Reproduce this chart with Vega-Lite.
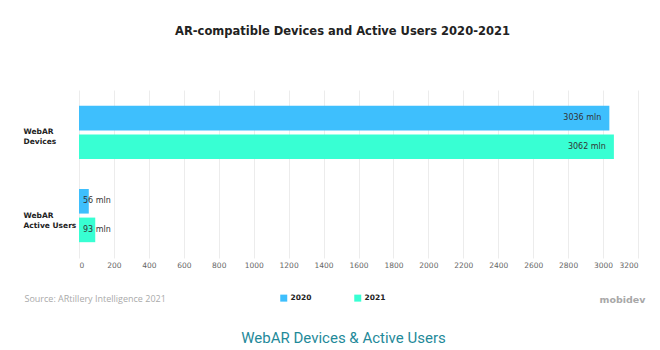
{
  "$schema": "https://vega.github.io/schema/vega-lite/v6.json",
  "autosize": {"type": "none"},
  "width": 559,
  "height": 168,
  "padding": {"left": 79, "top": 90, "right": 22, "bottom": 92},
  "background": "white",
  "title": {
    "text": "AR-compatible Devices and Active Users 2020-2021",
    "font": "DejaVu Sans",
    "fontSize": 11.5,
    "fontWeight": "bold",
    "color": "#222222",
    "anchor": "middle",
    "frame": "group",
    "dx": -16,
    "offset": 53
  },
  "data": {
    "values": [
      {"metric": "WebAR Devices", "year": "2020", "value": 3036, "label": "3036 mln"},
      {"metric": "WebAR Devices", "year": "2021", "value": 3062, "label": "3062 mln"},
      {"metric": "WebAR Active Users", "year": "2020", "value": 56, "label": "56 mln"},
      {"metric": "WebAR Active Users", "year": "2021", "value": 93, "label": "93 mln"}
    ]
  },
  "encoding": {
    "yOffset": {
      "field": "year",
      "type": "nominal",
      "scale": {"paddingInner": 0.14, "paddingOuter": 0}
    }
  },
  "layer": [
    {
      "mark": {"type": "bar", "cornerRadius": 0},
      "encoding": {
        "x": {
          "field": "value",
          "type": "quantitative",
          "scale": {"domain": [0, 3200], "nice": false},
          "axis": {
            "values": [0, 200, 400, 600, 800, 1000, 1200, 1400, 1600, 1800, 2000, 2200, 2400, 2600, 2800, 3000, 3200],
            "format": "d",
            "labelOverlap": false,
            "grid": true,
            "gridColor": "#ececec",
            "gridWidth": 1,
            "domain": false,
            "ticks": false,
            "tickSize": 0,
            "labelPadding": 3,
            "labelFont": "DejaVu Sans",
            "labelFontSize": 7.5,
            "labelColor": "#666666",
            "labelBaseline": "top",
            "title": "WebAR Devices & Active Users",
            "titleFont": "Roboto",
            "titleFontSize": 15,
            "titleFontWeight": "normal",
            "titleColor": "#1f8a9a",
            "titleAlign": "center",
            "titleBaseline": "middle",
            "titleAnchor": null,
            "titleX": 264,
            "titleY": 79
          }
        },
        "y": {
          "field": "metric",
          "type": "nominal",
          "sort": ["WebAR Devices", "WebAR Active Users"],
          "scale": {"paddingInner": 0.36, "paddingOuter": 0.19},
          "axis": {
            "domain": false,
            "ticks": false,
            "tickSize": 0,
            "grid": false,
            "labelAlign": "left",
            "labelBaseline": "middle",
            "labelPadding": 56,
            "labelFont": "DejaVu Sans",
            "labelFontWeight": "bold",
            "labelFontSize": 7.5,
            "labelColor": "#222222",
            "labelLineHeight": 10,
            "labelExpr": "[slice(datum.label, 0, 5), slice(datum.label, 6)]",
            "title": "Source: ARtillery Intelligence 2021",
            "titleAngle": 0,
            "titleFont": "Open Sans",
            "titleFontSize": 9,
            "titleFontWeight": "normal",
            "titleColor": "#aaaaaa",
            "titleAlign": "left",
            "titleBaseline": "middle",
            "titleAnchor": null,
            "titleX": -55,
            "titleY": 208
          }
        },
        "color": {
          "field": "year",
          "type": "nominal",
          "scale": {"domain": ["2020", "2021"], "range": ["#3ebffd", "#38ffd3"]},
          "legend": {
            "orient": "none",
            "direction": "horizontal",
            "legendX": 201,
            "legendY": 204,
            "title": null,
            "symbolType": "square",
            "symbolSize": 49,
            "symbolStrokeWidth": 0,
            "labelFont": "DejaVu Sans",
            "labelFontWeight": "bold",
            "labelFontSize": 7.5,
            "labelColor": "#222222",
            "labelOffset": 3,
            "columnPadding": 42
          }
        }
      }
    },
    {
      "transform": [{"filter": "datum.value > 1000"}],
      "mark": {"type": "text", "align": "right", "baseline": "middle", "dx": -8, "font": "DejaVu Sans", "fontSize": 8, "color": "#333333"},
      "encoding": {
        "x": {
          "field": "value",
          "type": "quantitative",
          "axis": {
            "values": [0, 200, 400, 600, 800, 1000, 1200, 1400, 1600, 1800, 2000, 2200, 2400, 2600, 2800, 3000, 3200],
            "format": "d",
            "labelOverlap": false,
            "grid": true,
            "gridColor": "#ececec",
            "gridWidth": 1,
            "domain": false,
            "ticks": false,
            "tickSize": 0,
            "labelPadding": 3,
            "labelFont": "DejaVu Sans",
            "labelFontSize": 7.5,
            "labelColor": "#666666",
            "labelBaseline": "top",
            "title": "WebAR Devices & Active Users",
            "titleFont": "Roboto",
            "titleFontSize": 15,
            "titleFontWeight": "normal",
            "titleColor": "#1f8a9a",
            "titleAlign": "center",
            "titleBaseline": "middle",
            "titleAnchor": null,
            "titleX": 264,
            "titleY": 79
          }
        },
        "y": {
          "field": "metric",
          "type": "nominal",
          "sort": ["WebAR Devices", "WebAR Active Users"],
          "axis": null
        },
        "text": {"field": "label"}
      }
    },
    {
      "transform": [{"filter": "datum.value <= 1000"}],
      "mark": {"type": "text", "align": "left", "baseline": "middle", "dx": 4, "font": "DejaVu Sans", "fontSize": 8, "color": "#333333"},
      "encoding": {
        "x": {
          "datum": 0,
          "type": "quantitative",
          "axis": {
            "values": [0, 200, 400, 600, 800, 1000, 1200, 1400, 1600, 1800, 2000, 2200, 2400, 2600, 2800, 3000, 3200],
            "format": "d",
            "labelOverlap": false,
            "grid": true,
            "gridColor": "#ececec",
            "gridWidth": 1,
            "domain": false,
            "ticks": false,
            "tickSize": 0,
            "labelPadding": 3,
            "labelFont": "DejaVu Sans",
            "labelFontSize": 7.5,
            "labelColor": "#666666",
            "labelBaseline": "top",
            "title": "WebAR Devices & Active Users",
            "titleFont": "Roboto",
            "titleFontSize": 15,
            "titleFontWeight": "normal",
            "titleColor": "#1f8a9a",
            "titleAlign": "center",
            "titleBaseline": "middle",
            "titleAnchor": null,
            "titleX": 264,
            "titleY": 79
          }
        },
        "y": {
          "field": "metric",
          "type": "nominal",
          "sort": ["WebAR Devices", "WebAR Active Users"],
          "axis": {
            "orient": "right",
            "domain": false,
            "ticks": false,
            "labels": false,
            "grid": false,
            "title": "mobidev",
            "titleAngle": 0,
            "titleFont": "DejaVu Sans",
            "titleFontSize": 9.5,
            "titleFontWeight": "bold",
            "titleColor": "#a8a8a8",
            "titleAlign": "right",
            "titleBaseline": "middle",
            "titleAnchor": null,
            "titleX": 7,
            "titleY": 209
          }
        },
        "text": {"field": "label"}
      }
    }
  ],
  "resolve": {"axis": {"y": "independent"}},
  "config": {
    "view": {"stroke": null}
  }
}
